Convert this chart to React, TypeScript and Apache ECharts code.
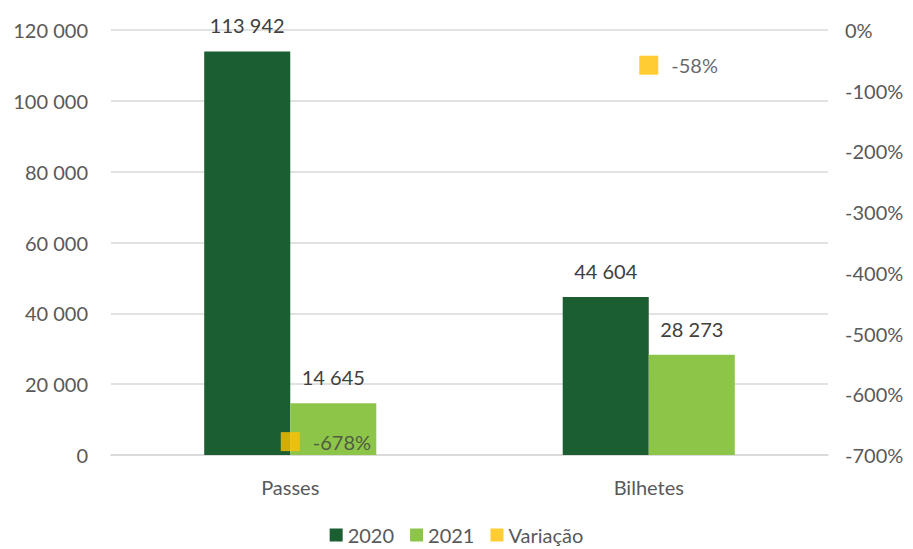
import React, { useEffect, useRef } from "react";
import * as echarts from "echarts";

const categories = ["Passes", "Bilhetes"];
const values2020 = [113942, 44604];
const values2021 = [14645, 28273];
const variacao = [-678, -58];
const leftTicks = { min: 0, max: 120000, interval: 20000 };
const rightTicks = { min: -700, max: 0, interval: 100 };

const fmt = (v: number) =>
  String(Math.round(v)).replace(/\B(?=(\d{3})+(?!\d))/g, " ");

export default function App() {
  const ref = useRef<HTMLDivElement>(null);
  useEffect(() => {
    if (!ref.current) return;
    const chart = echarts.init(ref.current, undefined, { renderer: "svg" });
    const font = "Lato, 'Open Sans', sans-serif";
    const txt = "#595959";
    const fs = 20;
    chart.setOption({
      animation: false,
      textStyle: { fontFamily: font },
      grid: { left: 111, right: 85, top: 30, bottom: 94, containLabel: false },
      legend: {
        bottom: -1,
        left: "center",
        itemWidth: 13,
        itemHeight: 13,
        itemGap: 16,
        icon: "rect",
        textStyle: { fontSize: fs, color: txt, fontFamily: font },
        data: ["2020", "2021", "Variação"],
      },
      xAxis: {
        type: "category",
        data: categories,
        axisTick: { show: false },
        axisLine: { lineStyle: { color: "#d9d9d9", width: 1.5 } },
        axisLabel: { fontSize: fs, color: txt, margin: 22 },
      },
      yAxis: [
        {
          type: "value",
          ...leftTicks,
          axisLine: { show: false },
          axisTick: { show: false },
          splitLine: { lineStyle: { color: "#d9d9d9", width: 1.5 } },
          axisLabel: { fontSize: fs, color: txt, margin: 23, formatter: (v: number) => fmt(v) },
        },
        {
          type: "value",
          ...rightTicks,
          axisLine: { show: false },
          axisTick: { show: false },
          splitLine: { show: false },
          axisLabel: { fontSize: fs, color: txt, margin: 17, formatter: (v: number) => v + "%" },
        },
      ],
      series: [
        {
          name: "2020",
          type: "bar",
          data: values2020,
          barGap: "0%",
          barCategoryGap: "52%",
          itemStyle: { color: "#1b5e32" },
          label: {
            show: true,
            position: "top",
            distance: 16,
            fontSize: fs,
            color: "#404040",
            formatter: (p: any) => fmt(p.value),
          },
        },
        {
          name: "2021",
          type: "bar",
          data: values2021,
          itemStyle: { color: "#8dc549" },
          label: {
            show: true,
            position: "top",
            distance: 16,
            fontSize: fs,
            color: "#404040",
            formatter: (p: any) => fmt(p.value),
          },
        },
        {
          name: "Variação",
          type: "scatter",
          yAxisIndex: 1,
          data: variacao,
          symbol: "rect",
          symbolSize: 19,
          itemStyle: { color: "#ffc000" },
          label: {
            show: true,
            position: "right",
            distance: 13,
            fontSize: fs,
            color: "#404040",
            formatter: (p: any) => p.value + "%",
          },
        },
      ],
    });
    return () => chart.dispose();
  }, []);
  return <div ref={ref} style={{ width: 913, height: 549, position: "absolute", left: 0, top: 0 }} />;
}
